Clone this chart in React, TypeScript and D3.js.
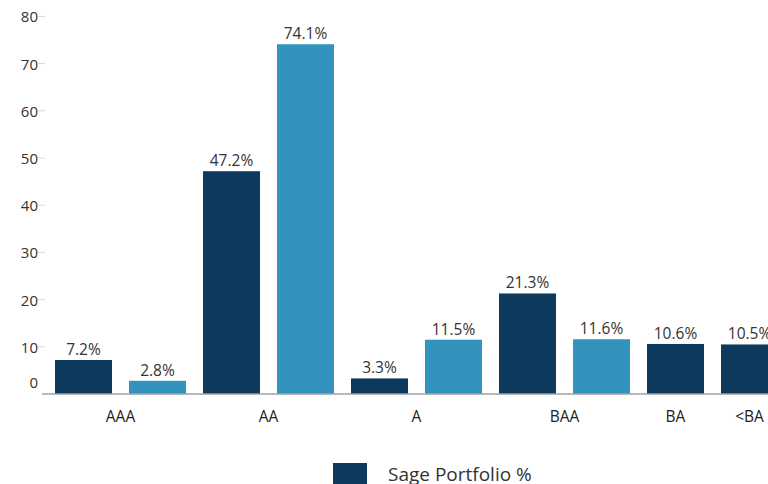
import React from "react";
import * as d3 from "d3";

const categories = ["AAA", "AA", "A", "BAA", "BA", "<BA"];
const sagePortfolio = [7.2, 47.2, 3.3, 21.3, 10.6, 10.5];
const benchmark: (number | null)[] = [2.8, 74.1, 11.5, 11.6, null, null];
const yTicks = [0, 10, 20, 30, 40, 50, 60, 70, 80];
const seriesNames = ["Sage Portfolio %", "Benchmark %"];

const W = 768;
const H = 484;
const DARK = "#0d3a5c";
const LIGHT = "#3193be";
const FONT = "'Open Sans', 'Noto Sans', sans-serif";

type Slot = { key: string; cat: string; value: number; series: number };

export default function App() {
  const slots: Slot[] = [];
  categories.forEach((c, i) => {
    slots.push({ key: c + "-0", cat: c, value: sagePortfolio[i], series: 0 });
    const b = benchmark[i];
    if (b !== null) slots.push({ key: c + "-1", cat: c, value: b, series: 1 });
  });

  const x = d3
    .scaleBand<string>()
    .domain(slots.map((s) => s.key))
    .range([55, 778])
    .paddingInner(0.23)
    .paddingOuter(0);
  const y = d3.scaleLinear().domain([0, 80]).range([394, 16.4]);
  const bw = x.bandwidth();

  const catCenter = (c: string) => {
    const ks = slots.filter((s) => s.cat === c);
    const a = x(ks[0].key)!;
    const b = x(ks[ks.length - 1].key)! + bw;
    return (a + b) / 2;
  };

  return (
    <svg
      width={W}
      height={H}
      style={{ position: "absolute", left: 0, top: 0, background: "#fff" }}
      fontFamily={FONT}
    >
      {yTicks.map((t) => (
        <g key={t}>
          {t !== 0 && (
            <line x1={38} x2={45} y1={y(t)} y2={y(t)} stroke="#d8d8d8" strokeWidth={1} />
          )}
          <text
            x={38}
            y={t === 0 ? y(t) - 12 : y(t)}
            textAnchor="end"
            dominantBaseline="central"
            fontSize={15}
            fill="#333"
          >
            {t}
          </text>
        </g>
      ))}
      {slots.map((s) => (
        <g key={s.key}>
          <rect
            x={x(s.key)}
            y={y(s.value)}
            width={bw}
            height={y(0) - y(s.value)}
            fill={s.series === 0 ? DARK : LIGHT}
          />
          <text
            x={x(s.key)! + bw / 2}
            y={y(s.value) - 11}
            textAnchor="middle"
            dominantBaseline="central"
            fontSize={15.5}
            fill="#333"
          >
            {s.value.toFixed(1) + "%"}
          </text>
        </g>
      ))}
      <line x1={42} x2={W} y1={y(0)} y2={y(0)} stroke="#a0a0a0" strokeWidth={1.5} />
      {categories.map((c) => (
        <text
          key={c}
          x={catCenter(c)}
          y={416}
          textAnchor="middle"
          dominantBaseline="central"
          fontSize={15.5}
          fill="#222"
        >
          {c}
        </text>
      ))}
      <g>
        <rect x={333} y={463} width={34} height={30} fill={DARK} />
        <text x={388} y={474} dominantBaseline="central" fontSize={19} fill="#333">
          {seriesNames[0]}
        </text>
      </g>
    </svg>
  );
}
